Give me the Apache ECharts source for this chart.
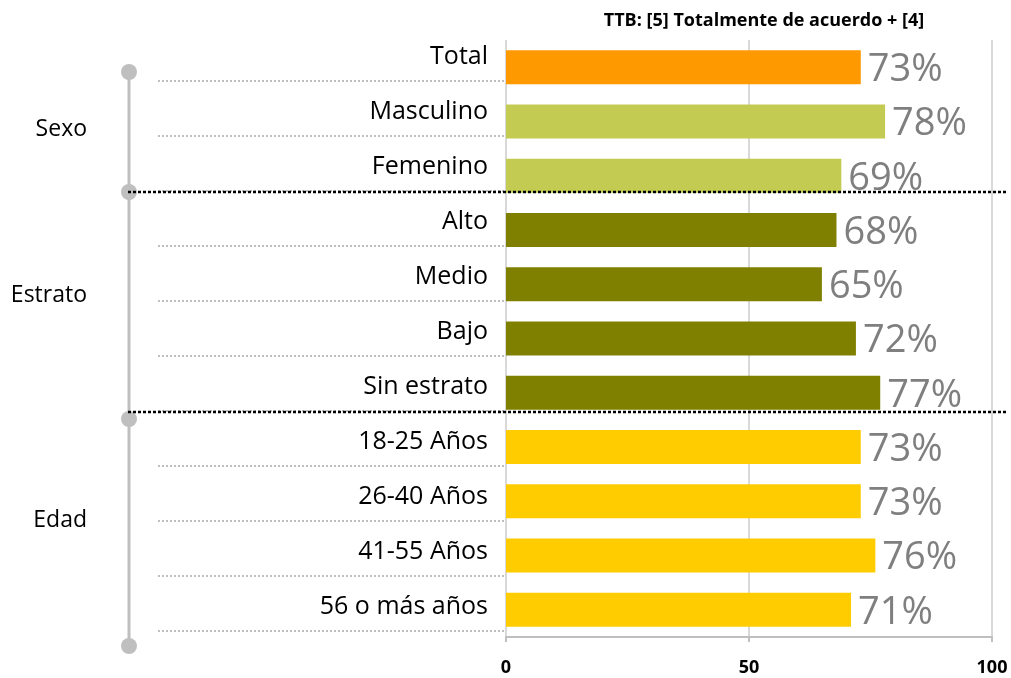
<!DOCTYPE html>
<html>
<head>
<meta charset="utf-8">
<script src="https://cdn.jsdelivr.net/npm/echarts@6/dist/echarts.min.js"></script>
<style>
  html, body { margin: 0; padding: 0; background: #fff; }
  #chart { width: 1011px; height: 678px; }
</style>
</head>
<body>
<div id="chart"></div>
<script>
// datos del grafico
const categories = ['Total', 'Masculino', 'Femenino', 'Alto', 'Medio', 'Bajo', 'Sin estrato',
  '18-25 Años', '26-40 Años', '41-55 Años', '56 o más años'];
const values = [73, 78, 69, 68, 65, 72, 77, 73, 73, 76, 71];
const groupOf = ['Total', 'Sexo', 'Sexo', 'Estrato', 'Estrato', 'Estrato', 'Estrato',
  'Edad', 'Edad', 'Edad', 'Edad'];
const groups = ['Sexo', 'Estrato', 'Edad'];
const xTicks = [0, 50, 100];
const titleText = 'TTB: [5] Totalmente de acuerdo + [4]';

const colors = {
  Total: '#FF9900',
  Sexo: '#C4CB52',
  Estrato: '#808000',
  Edad: '#FFCC00'
};
const font = '"Open Sans", "DejaVu Sans", sans-serif';

const chart = echarts.init(document.getElementById('chart'));

// decoracion a la izquierda (llave con grupos)
const groupY = [129, 295, 520];
const dotsY = [72, 192, 419, 646];
const graphics = [];
graphics.push({
  type: 'line', z: 1,
  shape: { x1: 129, y1: dotsY[0], x2: 129, y2: dotsY[dotsY.length - 1] },
  style: { stroke: '#BFBFBF', lineWidth: 3 }
});
dotsY.forEach(function (y) {
  graphics.push({
    type: 'circle', z: 2,
    shape: { cx: 129, cy: y, r: 8 },
    style: { fill: '#BFBFBF' }
  });
});
[192, 412].forEach(function (y) {
  graphics.push({
    type: 'line', z: 3,
    shape: { x1: 128, y1: y, x2: 1007, y2: y },
    style: { stroke: '#000', lineWidth: 2.5, lineDash: [3, 2] }
  });
});
groups.forEach(function (g, i) {
  graphics.push({
    type: 'text', z: 3,
    x: 87, y: groupY[i],
    style: {
      text: g, fill: '#000', font: '23px ' + font,
      textAlign: 'right', textVerticalAlign: 'middle'
    }
  });
});

chart.setOption({
  animation: false,
  title: {
    text: titleText,
    left: 759, top: 7,
    textAlign: 'center',
    textStyle: { fontFamily: font, fontSize: 18, fontWeight: 'bold', color: '#000' }
  },
  grid: [
    { left: 506, right: 19, top: 40, bottom: 41 },
    { left: 158, right: 505, top: 26, height: 605 }
  ],
  xAxis: [
    {
      gridIndex: 0, type: 'value', min: xTicks[0], max: xTicks[xTicks.length - 1], interval: 50,
      axisLine: { show: true, lineStyle: { color: '#BFBFBF', width: 2 } },
      axisTick: { show: true, length: 5, lineStyle: { color: '#BFBFBF', width: 2 } },
      splitLine: { show: true, lineStyle: { color: '#D9D9D9', width: 2 } },
      axisLabel: { margin: 22, fontFamily: font, fontSize: 18, fontWeight: 'bold', color: '#000' }
    },
    { gridIndex: 1, type: 'value', show: false }
  ],
  yAxis: [
    {
      gridIndex: 0, type: 'category', inverse: true, data: categories,
      axisLine: { show: false }, axisTick: { show: false }, axisLabel: { show: false }
    },
    {
      gridIndex: 1, type: 'category', inverse: true, data: categories, position: 'right',
      axisLine: { show: false }, axisTick: { show: false },
      axisLabel: {
        inside: true, margin: 18,
        formatter: '{a|{value}}',
        rich: {
          a: { fontFamily: font, fontSize: 25, color: '#000', padding: [7, 0, 0, 0] }
        }
      },
      splitLine: {
        show: true,
        interval: function (index) { return index > 0; },
        lineStyle: { color: '#BFBFBF', width: 2, type: [2, 2] }
      }
    }
  ],
  series: [
    {
      type: 'bar', xAxisIndex: 0, yAxisIndex: 0,
      barWidth: 34,
      data: values.map(function (v, i) {
        return { value: v, itemStyle: { color: colors[groupOf[i]] } };
      }),
      label: {
        show: true, position: 'right', distance: 7, offset: [0, 3],
        formatter: '{c}%',
        fontFamily: font, fontSize: 38, color: '#7F7F7F'
      }
    }
  ],
  graphic: graphics
});
</script>
</body>
</html>
